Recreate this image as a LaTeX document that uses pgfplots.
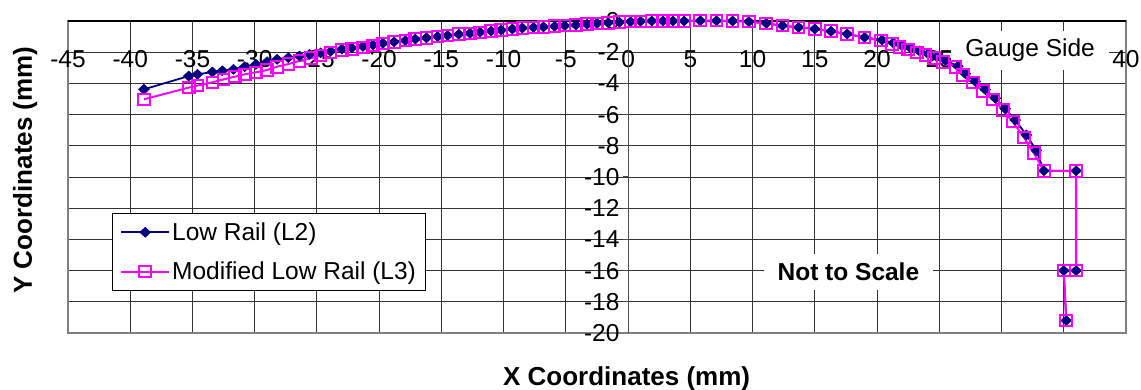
\documentclass[border=0pt]{standalone}
\usepackage{fontspec}
\setmainfont{Liberation Sans}
\usepackage{pgfplots}
\pgfplotsset{compat=1.18}
\definecolor{navyL}{RGB}{0,0,128}
\definecolor{magL}{RGB}{255,0,255}
\begin{document}
\begin{tikzpicture}[x=1pt,y=1pt]
\useasboundingbox (0,0) rectangle (1141,390);
\begin{axis}[
  at={(68pt,57pt)}, anchor=south west,
  scale only axis, width=1058pt, height=312pt,
  xmin=-45, xmax=40, ymin=-20, ymax=0,
  clip=false,
  xtick={-45,-40,...,40},
  xticklabels={-45,-40,-35,-30,-25,-20,-15,-10,-5,0,5,10,15,20,25,30,35,40},
  ytick={-20,-18,...,0},
  yticklabels={-20,-18,-16,-14,-12,-10,-8,-6,-4,-2,0},
  grid=major,
  major grid style={black!80, line width=0.9pt},
  axis line style={black!50, line width=1.6pt},
  xtick style={draw=none},
  ytick pos=left, tick align=outside, major tick length=5pt,
  ytick style={xshift=560pt, black!70, line width=1pt},
  tick label style={font=\fontsize{24.5}{28}\selectfont},
  xticklabel style={anchor=center, yshift=279pt},
  yticklabel style={xshift=560pt},
  xlabel={X Coordinates (mm)},
  ylabel={Y Coordinates (mm)},
  label style={font=\fontsize{26}{30}\selectfont\bfseries},
  xlabel style={at={(rel axis cs:0.528,-0.148)}, anchor=center},
  ylabel style={at={(rel axis cs:-0.0406,0.522)}, anchor=center},
  legend style={at={(rel axis cs:0.0413,0.1356)}, anchor=south west,
    draw=black, line width=1pt, fill=white,
    font=\fontsize{24.5}{28}\selectfont,
    inner xsep=8pt, inner ysep=7pt, row sep=16pt,
    nodes={inner sep=2pt}},
  legend cell align=left,
  legend image code/.code={\draw[mark repeat=2,mark phase=2,#1] plot coordinates {(0pt,0pt) (24pt,0pt) (48pt,0pt)};},
]
\draw[black, line width=1.4pt] (axis cs:-45,0) -- (axis cs:40,0);
\draw[black!70, line width=1.2pt] (axis cs:0,-20) -- (axis cs:0,0);
\node[fill=white, inner xsep=14pt, inner ysep=8pt, font=\fontsize{24.5}{28}\selectfont] at (axis cs:32.3,-1.9) {Gauge Side};
\node[fill=white, inner xsep=14pt, inner ysep=9pt, font=\fontsize{24.5}{28}\selectfont\bfseries] at (axis cs:17.7,-16.1) {Not to Scale};

\addplot[navyL, line width=1.8pt, mark=diamond*, mark size=5pt, mark options={xscale=1.45, fill=navyL, draw=navyL, line width=0.5pt}] coordinates {
(-38.9,-4.38) (-35.3,-3.53) (-34.6,-3.42) (-33.4,-3.27) (-32.6,-3.19) (-31.7,-3.10) (-30.8,-2.93) (-29.9,-2.78) (-29.0,-2.61) (-28.2,-2.46) (-27.3,-2.35) (-26.4,-2.24) (-25.6,-2.14) (-24.7,-2.04) (-23.9,-1.94) (-23.0,-1.80) (-22.2,-1.72) (-21.3,-1.63) (-20.5,-1.53) (-19.7,-1.43) (-18.8,-1.34) (-17.9,-1.25) (-17.1,-1.16) (-16.2,-1.08) (-15.3,-1.00) (-14.5,-0.93) (-13.6,-0.85) (-12.7,-0.79) (-11.9,-0.72) (-11.0,-0.64) (-10.2,-0.58) (-9.3,-0.51) (-8.5,-0.45) (-7.6,-0.41) (-6.8,-0.38) (-5.9,-0.34) (-5.1,-0.30) (-4.2,-0.26) (-3.3,-0.21) (-2.5,-0.15) (-1.6,-0.11) (-0.7,-0.08) (0.2,-0.04) (1.0,-0.02) (1.9,0) (2.8,0) (3.6,0) (4.5,0) (5.8,0.02) (7.1,0.02) (8.4,0) (9.7,-0.04) (11.1,-0.15) (12.4,-0.30) (13.7,-0.41) (15.0,-0.51) (16.3,-0.66) (17.6,-0.83) (19.0,-1.05) (20.4,-1.22) (21.3,-1.40) (22.0,-1.57) (22.7,-1.74) (23.4,-1.92) (24.1,-2.10) (24.8,-2.30) (25.5,-2.52) (26.5,-2.90) (27.1,-3.38) (27.9,-3.88) (28.7,-4.40) (29.5,-4.95) (30.3,-5.62) (31.1,-6.35) (32.0,-7.30) (32.8,-8.30) (33.4,-9.6) (36.0,-9.6) (36.0,-16.0) (35.0,-16.0) (35.2,-19.2)
};
\addlegendentry{Low Rail (L2)}

\addplot[magL, line width=2pt, mark=square, mark size=5.8pt, mark options={draw=magL, fill=none, line width=2pt}] coordinates {
(-38.9,-5.02) (-35.3,-4.27) (-34.6,-4.14) (-33.4,-3.93) (-32.5,-3.74) (-31.6,-3.57) (-30.8,-3.42) (-29.9,-3.29) (-29.0,-3.14) (-28.2,-2.93) (-27.3,-2.76) (-26.4,-2.56) (-25.5,-2.39) (-24.7,-2.20) (-23.9,-2.02) (-23.0,-1.86) (-22.2,-1.79) (-21.3,-1.69) (-20.5,-1.58) (-19.7,-1.45) (-18.8,-1.35) (-17.9,-1.26) (-17.1,-1.17) (-16.2,-1.09) (-15.3,-1.00) (-14.5,-0.94) (-13.6,-0.85) (-12.7,-0.79) (-11.9,-0.73) (-11.0,-0.64) (-10.2,-0.58) (-9.3,-0.51) (-8.5,-0.45) (-7.6,-0.41) (-6.8,-0.38) (-5.9,-0.34) (-5.1,-0.30) (-4.2,-0.26) (-3.3,-0.21) (-2.5,-0.15) (-1.6,-0.11) (-0.7,-0.08) (0.2,-0.04) (1.0,-0.02) (1.9,0) (2.8,0) (3.6,0) (4.5,0) (5.8,0.02) (7.1,0.02) (8.4,0) (9.7,-0.04) (11.1,-0.15) (12.4,-0.30) (13.7,-0.41) (15.0,-0.51) (16.3,-0.66) (17.6,-0.83) (19.0,-1.05) (20.3,-1.26) (21.2,-1.47) (21.8,-1.65) (22.5,-1.82) (23.2,-2.01) (23.9,-2.18) (24.6,-2.39) (25.3,-2.61) (26.3,-2.93) (26.9,-3.46) (27.7,-3.95) (28.5,-4.47) (29.3,-5.02) (30.1,-5.71) (30.9,-6.45) (31.8,-7.46) (32.6,-8.48) (33.4,-9.6) (36.0,-9.6) (36.0,-16.0) (35.0,-16.0) (35.2,-19.2)
};
\addlegendentry{Modified Low Rail (L3)}
\end{axis}
\end{tikzpicture}
\end{document}
